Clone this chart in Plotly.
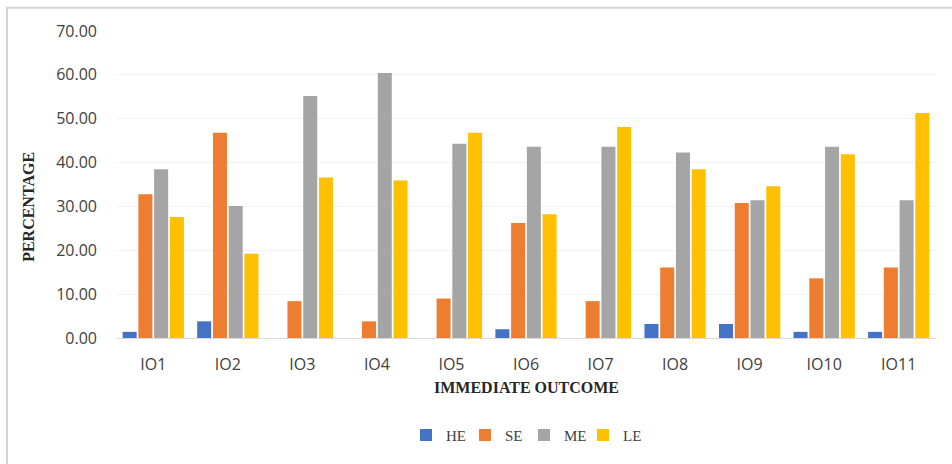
import plotly.graph_objects as go

categories = ["IO1", "IO2", "IO3", "IO4", "IO5", "IO6", "IO7", "IO8", "IO9", "IO10", "IO11"]

he = [1.4, 3.8, 0.0, 0.0, 0.0, 2.0, 0.0, 3.2, 3.2, 1.4, 1.4]
se = [32.8, 46.8, 8.4, 3.8, 9.0, 26.2, 8.4, 16.1, 30.8, 13.6, 16.1]
me = [38.5, 30.1, 55.2, 60.4, 44.3, 43.6, 43.6, 42.3, 31.4, 43.6, 31.4]
le = [27.6, 19.2, 36.6, 35.9, 46.8, 28.2, 48.1, 38.5, 34.6, 41.9, 51.3]

series = [
    ("HE", he, "#4472C4"),
    ("SE", se, "#ED7D31"),
    ("ME", me, "#A5A5A5"),
    ("LE", le, "#FFC000"),
]

fig = go.Figure()
for name, vals, color in series:
    fig.add_trace(go.Bar(
        x=categories, y=vals, name=name,
        marker=dict(color=color, line=dict(width=0)),
        hovertemplate="%{x}: %{y:.2f}<extra>" + name + "</extra>",
    ))

W, H = 952, 464
ml, mr, mt, mb = 116, 16, 31, 124
pw, ph = W - ml - mr, H - mt - mb

def px_x(x):
    return (x - ml) / pw

def px_y(y):
    return (H - mb - y) / ph

fig.update_layout(
    width=W, height=H,
    margin=dict(l=ml, r=mr, t=mt, b=mb, pad=0),
    paper_bgcolor="white", plot_bgcolor="white",
    barmode="group", bargap=0.155, bargroupgap=0.11,
    font=dict(family="Open Sans, Liberation Sans, sans-serif", color="#404040"),
    xaxis=dict(
        showgrid=False, showline=True, linecolor="#d9d9d9", linewidth=1,
        ticks="", tickfont=dict(size=16, color="#404040"),
        ticklabelstandoff=12,
    ),
    yaxis=dict(
        range=[0, 70], dtick=10, tickformat=".2f",
        showgrid=True, gridcolor="#f2f2f2", gridwidth=1,
        zeroline=False, showline=False, ticks="",
        tickfont=dict(size=16, color="#404040"),
        ticklabelstandoff=18,
    ),
    legend=dict(
        orientation="h", x=px_x(524), xanchor="center", y=px_y(438), yanchor="middle",
        font=dict(family="Liberation Serif, serif", size=15, color="#404040"),
        itemwidth=30, entrywidth=14, entrywidthmode="pixels",
        traceorder="normal", itemclick=False,
    ),
    showlegend=True,
    annotations=[
        dict(text="<b>IMMEDIATE OUTCOME</b>", xref="paper", yref="paper",
             x=px_x(526), y=px_y(390), xanchor="center", yanchor="middle",
             showarrow=False,
             font=dict(family="Liberation Serif, serif", size=16, color="#262626")),
        dict(text="<b>PERCENTAGE</b>", xref="paper", yref="paper",
             x=px_x(29), y=px_y(208), xanchor="center", yanchor="middle",
             textangle=-90, showarrow=False,
             font=dict(family="Liberation Serif, serif", size=16, color="#262626")),
    ],
    shapes=[
        dict(type="rect", xref="paper", yref="paper",
             x0=px_x(7), x1=px_x(960), y0=px_y(475), y1=px_y(7.5),
             line=dict(color="#d4d4d4", width=2), fillcolor="rgba(0,0,0,0)",
             layer="below"),
    ],
)

fig.write_html("out.html")
